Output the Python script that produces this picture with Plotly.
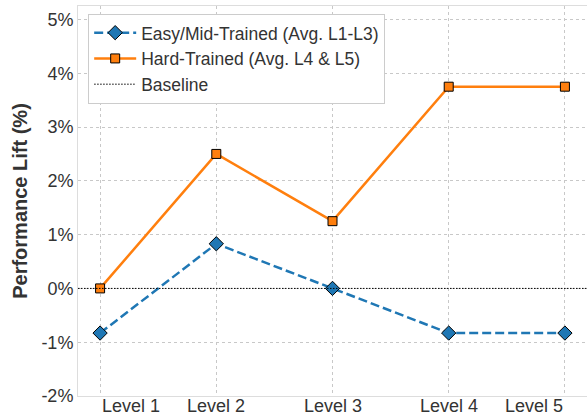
import plotly.graph_objects as go

levels = ["Level 1", "Level 2", "Level 3", "Level 4", "Level 5"]
easy_mid = [-0.83, 0.83, 0.0, -0.83, -0.83]
hard = [0.0, 2.5, 1.25, 3.75, 3.75]
y_ticks = [-2, -1, 0, 1, 2, 3, 4, 5]
y_tick_labels = ["-2%", "-1%", "0%", "1%", "2%", "3%", "4%", "5%"]

x_pos = list(range(len(levels)))
x_range = [-0.19, 4.19]
y_range = [-2, 5.25]
FONT = "Liberation Sans, Arial, sans-serif"

fig = go.Figure()
fig.add_trace(go.Scatter(
    x=x_pos, y=easy_mid, mode="lines+markers",
    name="Easy/Mid-Trained (Avg. L1-L3)",
    line=dict(color="#1f77b4", width=2.5, dash="9px,4px"),
    marker=dict(symbol="diamond", size=11, color="#1f77b4", line=dict(color="black", width=1)),
))
fig.add_trace(go.Scatter(
    x=x_pos, y=hard, mode="lines+markers",
    name="Hard-Trained (Avg. L4 & L5)",
    line=dict(color="#ff7f0e", width=2.5),
    marker=dict(symbol="square", size=9, color="#ff7f0e", line=dict(color="black", width=1)),
))
fig.add_trace(go.Scatter(
    x=x_range, y=[0, 0], mode="lines", name="Baseline",
    line=dict(color="black", width=1, dash="1.5px,1.5px"),
))

anchors = ["left", "center", "center", "center", "right"]
for xi, lab, anc in zip(x_pos, levels, anchors):
    fig.add_annotation(
        x=xi, y=0, xref="x", yref="paper", text=lab, showarrow=False,
        xanchor=anc, yanchor="top", yshift=2,
        font=dict(family=FONT, size=18, color="#333333"),
    )

fig.update_layout(
    width=587, height=415,
    margin=dict(l=78, r=0, t=6, b=19, autoexpand=False),
    paper_bgcolor="white", plot_bgcolor="white",
    font=dict(family=FONT, size=18, color="#333333"),
    showlegend=True,
    legend=dict(
        x=0.02, y=0.98, xanchor="left", yanchor="top",
        bgcolor="white", bordercolor="#cccccc", borderwidth=1,
        font=dict(family=FONT, size=17.5, color="#333333"),
        tracegroupgap=0, itemwidth=42,
    ),
    xaxis=dict(
        range=x_range, tickvals=x_pos, showticklabels=False,
        showgrid=True, gridcolor="#c8c8c8", griddash="dot", gridwidth=1,
        showline=True, linecolor="#dddddd", mirror=True, zeroline=False, ticks="",
    ),
    yaxis=dict(
        range=y_range, tickvals=y_ticks, ticktext=y_tick_labels,
        showgrid=True, gridcolor="#c8c8c8", griddash="dot", gridwidth=1,
        showline=True, linecolor="#dddddd", mirror=True, zeroline=False, ticks="",
        tickfont=dict(family=FONT, size=18, color="#333333"),
        title=dict(text="<b>Performance Lift (%)</b>", font=dict(family=FONT, size=20, color="#333333"), standoff=8),
    ),
)

fig.write_html("out.html", config={"displayModeBar": False},
               post_script="document.body.style.margin='0px';")
